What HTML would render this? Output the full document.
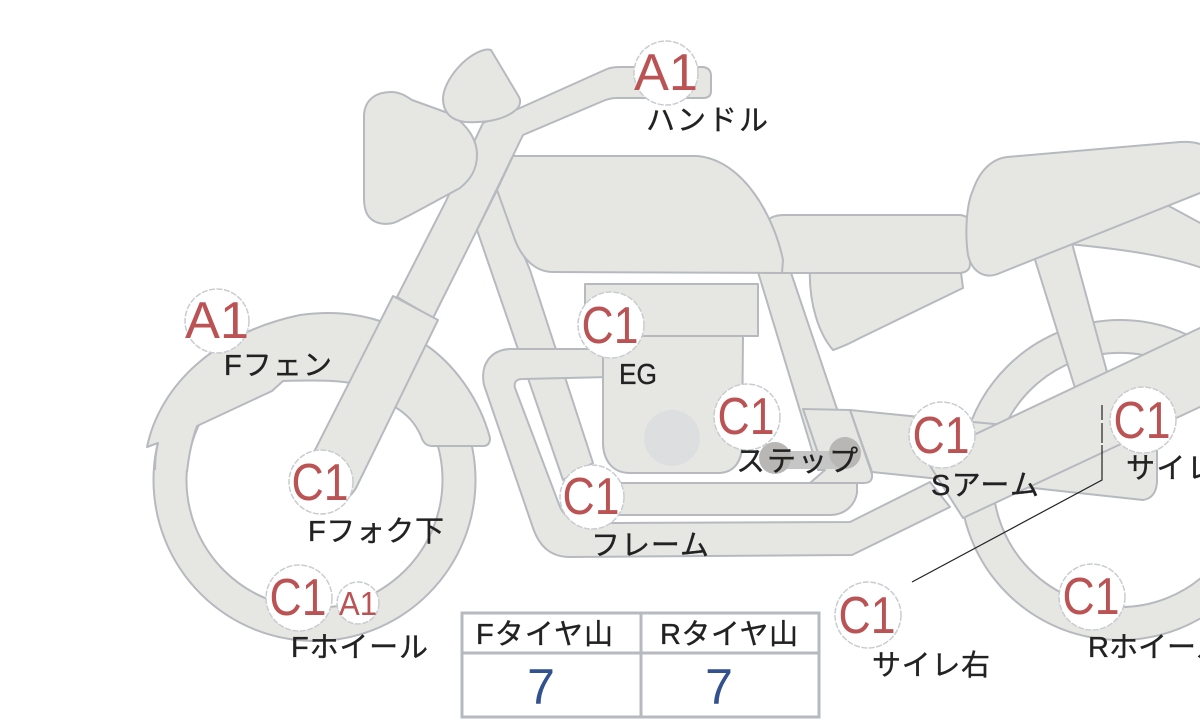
<!DOCTYPE html>
<html><head><meta charset="utf-8"><style>
html,body{margin:0;padding:0;background:#fff;width:1200px;height:720px;overflow:hidden}
svg{display:block}
.p{fill:#e6e7e3;stroke:#b6babf;stroke-width:2;stroke-linejoin:round}
.f{fill:#e6e7e3;stroke:none}
.s{fill:none;stroke:#b6babf;stroke-width:2;stroke-linejoin:round}
.c{fill:#fff;stroke:#c9cdd0;stroke-width:1.5;stroke-dasharray:6 1.5}
.r{font-family:"Liberation Sans","DejaVu Sans",sans-serif;fill:#bb5354;text-anchor:middle}
.t{font-family:"Liberation Sans","Noto Sans CJK JP",sans-serif;fill:#222;font-size:29px;stroke:#222;stroke-width:.35px}
</style></head><body>
<svg width="1200" height="720" viewBox="0 0 1200 720" xmlns="http://www.w3.org/2000/svg">
<!-- front wheel -->
<path class="p" fill-rule="evenodd" d="M153.500 480a161 161 0 1 0 322 0a161 161 0 1 0-322 0ZM186.500 480a128 128 0 1 1 256 0a128 128 0 1 1-256 0Z"/>
<!-- front fender -->
<path class="f" d="M147 447C160 385 215 333 300 315C330 311 355 313 380 321L426 345C455 365 480 400 490 438Q490 446 483 446L432 446Q424 446 421 436C415 423 408 415 395 407L358 385C345 380 315 380 283 381L272 391L197 426Q190 445 187 470L155 470L158 443Z"/>
<path class="s" d="M155 470Q155 455 158 443L147 447C160 385 215 333 300 315C330 311 355 313 380 321M426 345C455 365 480 400 490 438Q490 446 483 446L432 446Q424 446 421 436C415 423 408 415 395 407M358 385C345 380 315 380 283 381L272 391L197 426Q190 445 187 472"/>
<!-- upper fork + handlebar -->
<path class="p" d="M397 297L445 203L483 123L520 108L607 69Q612 67 620 67L703 67Q711 68 711 76L711 91Q711 98 703 98L617 98Q610 98 603 101L523 135L477 230L433 318Z"/>
<!-- lower fork -->
<path class="p" d="M393 296L438 320L356 488Q346 505 328 500Q305 490 315 450Z"/>
<!-- headlight -->
<path class="p" d="M364 115C365 98 378 92 391 92C400 92 406 96 412 100L448 113C465 122 477 138 477 155C477 170 470 180 460 188L425 207L410 215L400 220C392 225 378 226 370 218C365 213 364 205 364 198Z"/>
<!-- nacelle -->
<path class="p" d="M491 50L519 97Q522 103 517 109C505 120 485 123 465 122C450 120 443 112 443 98C444 80 465 55 484 50Q488 49 491 50Z"/>
<!-- down tube -->
<path class="p" d="M477 230L497 190L530 270L593 463L563 480Z"/>
<!-- rear strut -->
<path class="p" d="M755 262L785 255L838 412L852 470L818 470Z"/>
<!-- side cover -->
<path class="p" d="M810 265L960 265L963 288L860 338Q845 346 833 350C820 335 808 305 810 265Z"/>
<!-- rear panel -->
<path class="p" d="M765 225Q768 215 785 215L960 215Q970 216 970 225L970 264Q970 272 960 273L785 273L765 273Z"/>
<!-- tank -->
<path class="p" d="M513 156L697 156C745 160 775 220 783 260L782 273L553 272C535 272 522 258 515 240L497 190Z"/>
<!-- frame loop -->
<path class="p" d="M610 349L510 349C490 350 480 365 484 385L533 528C540 548 552 557 570 557L852 555L950 507L930 482L850 522L620 523L590 523C575 522 565 518 560 507L515 388Q513 379 523 379L610 377Z"/>
<!-- exhaust -->
<path class="p" d="M610 483L857 483L857 493C855 505 845 515 830 515L610 515Z"/>
<!-- engine -->
<path class="p" d="M603 336L743 336L742 445C742 460 735 473 718 473L630 473C612 473 604 460 603 445Z"/>
<rect class="p" x="585" y="284" width="173" height="52"/>
<circle cx="672" cy="438" r="28" fill="#dddee0"/>
<!-- rear fender -->
<path class="p" d="M1068 244C1120 249 1165 255 1202 268L1202 224L1167 205Z"/>
<!-- rear wheel -->
<path class="p" fill-rule="evenodd" d="M960 480a160 160 0 1 0 320 0a160 160 0 1 0-320 0ZM993 480a127 127 0 1 1 254 0a127 127 0 1 1-254 0Z"/>
<!-- shock -->
<path class="p" d="M1032 250L1070 236L1107 372L1075 388Z"/>
<!-- arm -->
<path class="p" d="M850 410L920 417L1005 425L1157 440L1157 482Q1156 498 1143 500L1033 488L930 478L872 472Z"/>
<!-- plate -->
<path class="p" d="M803 409L850 410L872 474Q873 483 864 483L810 483L825 470L817 450Z"/>
<!-- swingarm bar -->
<path class="p" d="M925 458L1202 327L1202 406L963 518Z"/>
<!-- seat -->
<path class="p" d="M1007 157L1180 142Q1195 141 1205 146L1205 191L1000 273C985 280 972 272 968 255C965 235 966 205 973 190C980 170 992 159 1007 157Z"/>
<!-- step -->
<rect x="775" y="451" width="70" height="18" fill="#c6c6c6"/>
<circle cx="775" cy="458" r="16" fill="#b9b7b6"/>
<circle cx="845" cy="453" r="16" fill="#b9b7b6"/>
<!-- leader -->
<path d="M1102 405V480L912 582" fill="none" stroke="#222" stroke-width="1.200"/>
<path d="M1102 420v3M1102 443v2" stroke="#fff" stroke-width="1.500"/>
<!-- circles -->
<circle class="c" cx="666" cy="73" r="32"/>
<circle class="c" cx="217" cy="321" r="32"/>
<circle class="c" cx="321" cy="482" r="32"/>
<circle class="c" cx="299" cy="598" r="33"/>
<circle class="c" cx="358" cy="603" r="21"/>
<circle class="c" cx="611" cy="325" r="33"/>
<circle class="c" cx="747" cy="417" r="33"/>
<circle class="c" cx="592" cy="497" r="32"/>
<circle class="c" cx="942" cy="435" r="33"/>
<circle class="c" cx="1143" cy="420" r="33"/>
<circle class="c" cx="1092" cy="597" r="33"/>
<circle class="c" cx="868" cy="615" r="33"/>
<text class="r" x="666" y="90" font-size="52" textLength="64" lengthAdjust="spacingAndGlyphs">A1</text>
<text class="r" x="217" y="338" font-size="52" textLength="64" lengthAdjust="spacingAndGlyphs">A1</text>
<text class="r" x="320" y="500" font-size="52" textLength="57" lengthAdjust="spacingAndGlyphs">C1</text>
<text class="r" x="298" y="615" font-size="52" textLength="57" lengthAdjust="spacingAndGlyphs">C1</text>
<text class="r" x="358" y="615" font-size="33" textLength="38" lengthAdjust="spacingAndGlyphs">A1</text>
<text class="r" x="610" y="343" font-size="52" textLength="57" lengthAdjust="spacingAndGlyphs">C1</text>
<text class="r" x="746" y="434" font-size="52" textLength="57" lengthAdjust="spacingAndGlyphs">C1</text>
<text class="r" x="591" y="514" font-size="52" textLength="57" lengthAdjust="spacingAndGlyphs">C1</text>
<text class="r" x="941" y="453" font-size="52" textLength="57" lengthAdjust="spacingAndGlyphs">C1</text>
<text class="r" x="1142" y="438" font-size="52" textLength="57" lengthAdjust="spacingAndGlyphs">C1</text>
<text class="r" x="1091" y="614" font-size="52" textLength="57" lengthAdjust="spacingAndGlyphs">C1</text>
<text class="r" x="867" y="633" font-size="52" textLength="57" lengthAdjust="spacingAndGlyphs">C1</text>
<!-- labels -->
<text class="t" x="646" y="130" textLength="122">ハンドル</text>
<text class="t" x="224" y="375" textLength="108">Fフェン</text>
<text class="t" x="308" y="541" textLength="136">Fフォク下</text>
<text class="t" x="291" y="657" textLength="137">Fホイール</text>
<text class="t" x="619" y="384" textLength="38" lengthAdjust="spacingAndGlyphs">EG</text>
<text class="t" x="736" y="471" textLength="122">ステップ</text>
<text class="t" x="931" y="495" textLength="108">Sアーム</text>
<text class="t" x="1126" y="478" textLength="120">サイレ左</text>
<text class="t" x="591" y="555" textLength="118">フレーム</text>
<text class="t" x="1088" y="657" textLength="137">Rホイール</text>
<text class="t" x="872" y="675" textLength="118">サイレ右</text>
<!-- table -->
<rect x="462" y="613" width="357" height="104" fill="#fff" stroke="#b6babf" stroke-width="3"/>
<path d="M462 653H819M641 613V717" stroke="#b6babf" stroke-width="3" fill="none"/>
<text class="t" x="476" y="644" textLength="137">Fタイヤ山</text>
<text class="t" x="660" y="644" textLength="138">Rタイヤ山</text>
<text x="541" y="704" font-family="Liberation Sans, sans-serif" font-size="50" fill="#33508f" text-anchor="middle">7</text>
<text x="719" y="704" font-family="Liberation Sans, sans-serif" font-size="50" fill="#33508f" text-anchor="middle">7</text>
</svg>
</body></html>
